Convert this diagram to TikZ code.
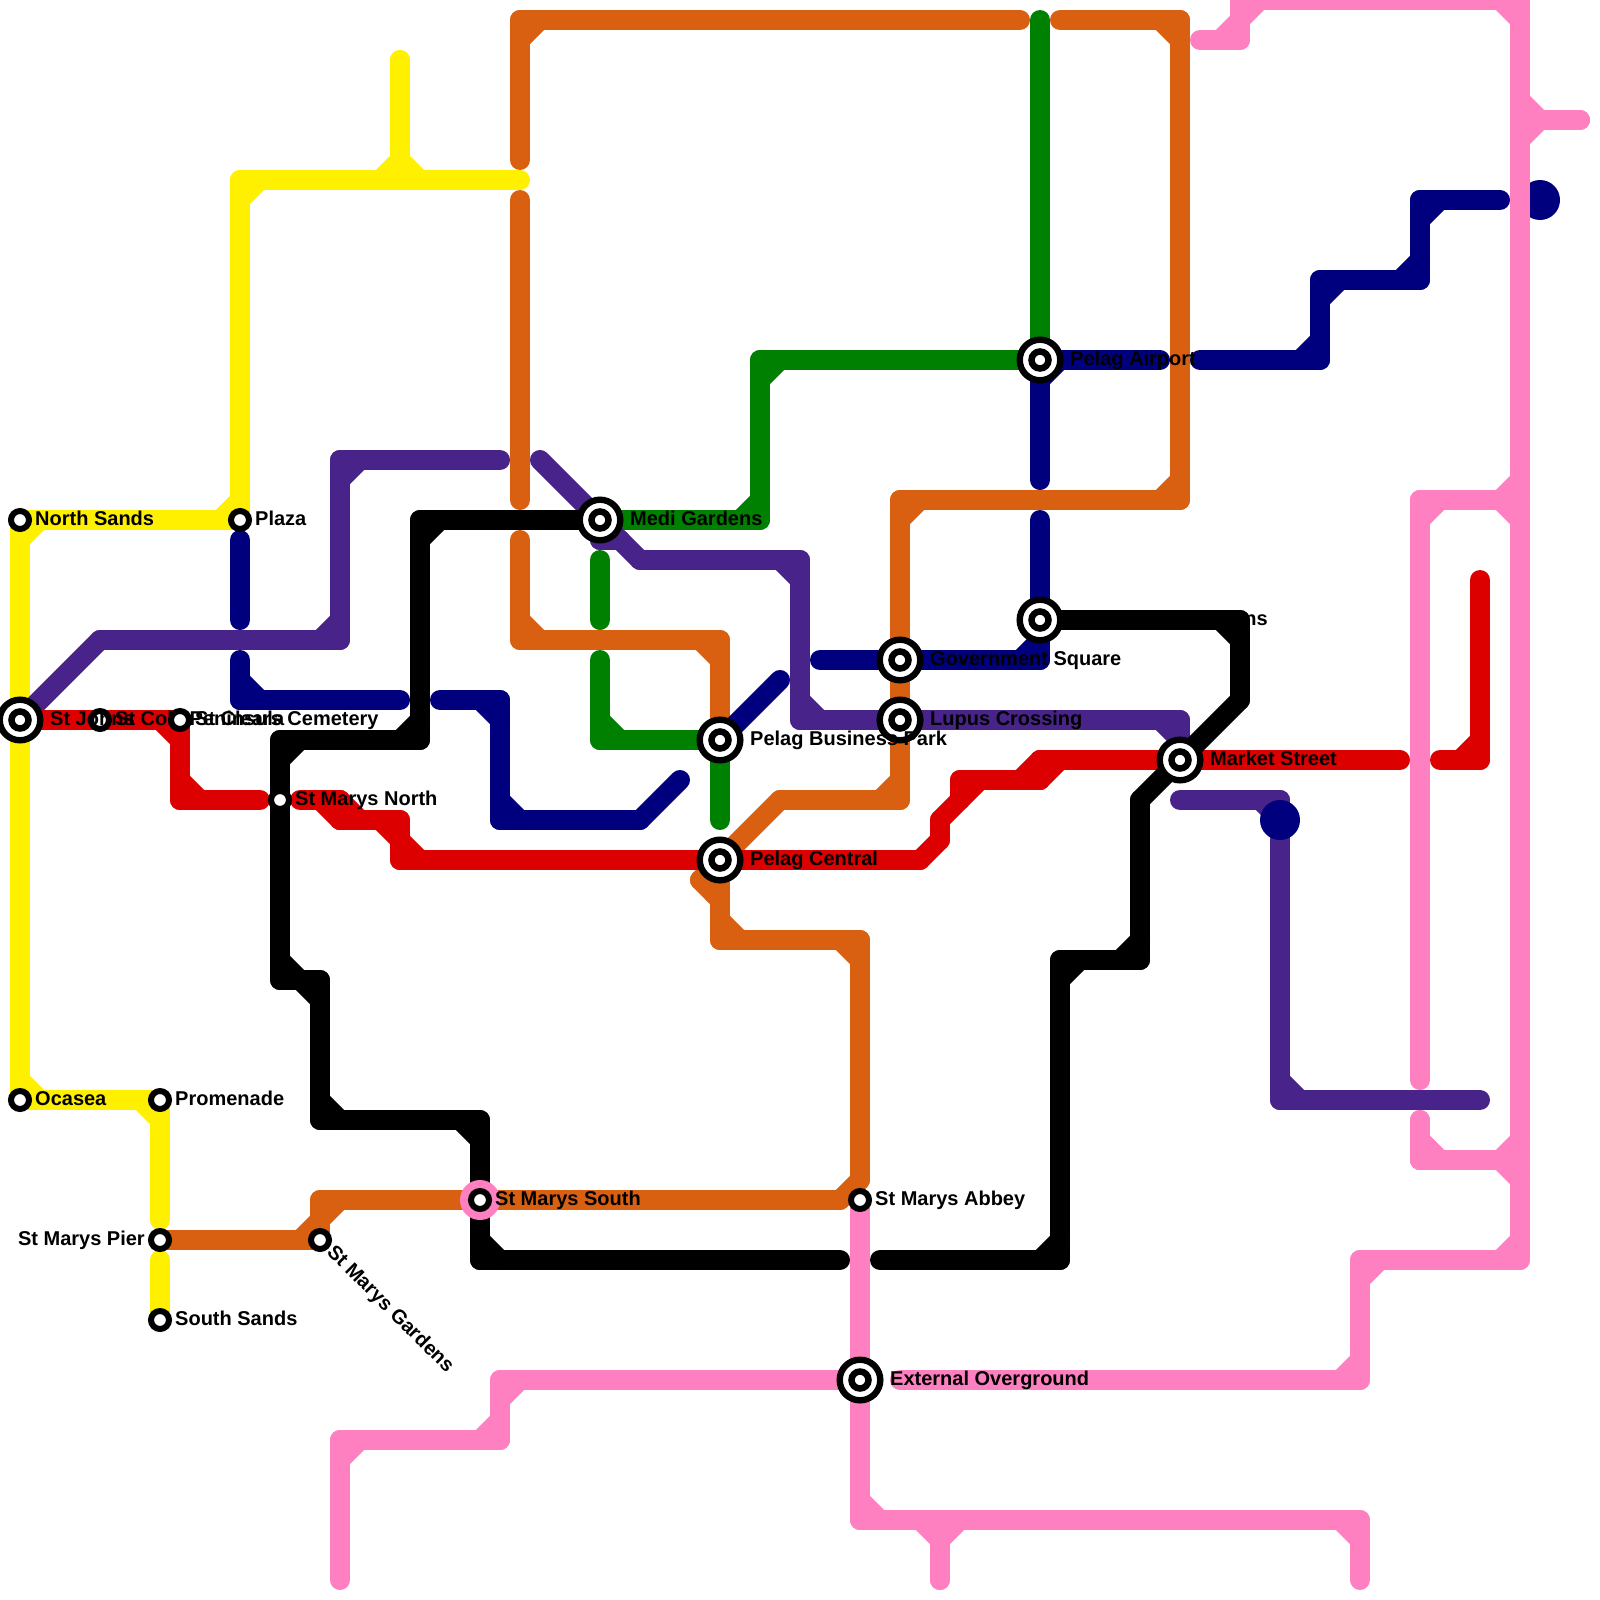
\documentclass[tikz,border=0pt]{standalone}
\usepackage{fontspec}
\setmainfont{Liberation Sans}
\usetikzlibrary{calc}

\definecolor{yellowline}{HTML}{FFF000}
\definecolor{orangeline}{HTML}{DA6011}
\definecolor{greenline}{HTML}{008000}
\definecolor{navyline}{HTML}{00007F}
\definecolor{purpleline}{HTML}{482389}
\definecolor{redline}{HTML}{DD0000}
\definecolor{pinkline}{HTML}{FF80C0}

\tikzset{
  metro/.style={line width=20pt,line cap=round,line join=round},
  stop/.style={circle,draw=black,fill=white,line width=6pt,minimum size=18pt,inner sep=0pt},
  hub/.style={circle,draw=black,fill=white,line width=6.4pt,minimum size=40.6pt,inner sep=0pt},
  hubcore/.style={circle,draw=black,fill=white,line width=6.5pt,minimum size=17pt,inner sep=0pt},
  blob/.style={circle,fill=#1,minimum size=40pt,inner sep=0pt},
  stationlabel/.style={anchor=base west,inner sep=0pt,font=\bfseries\fontsize{20pt}{24pt}\selectfont}
}

% a line through points, the square bends get their inner corner cut
\newcommand{\metroline}[2]{%
  \foreach \x/\y [count=\n, remember=\xa as \xb (initially 0), remember=\ya as \yb (initially 0),
                  remember=\x as \xa (initially 0), remember=\y as \ya (initially 0)] in {#2} {%
    \ifnum\n>1 \draw[metro,#1] (\xa,\ya) -- (\x,\y); \fi
    \ifnum\n>2
      \pgfmathtruncatemacro{\bendsize}{abs((\xa-\xb)/20*(\x-\xa)/20+(\ya-\yb)/20*(\y-\ya)/20)}
      \ifnum\bendsize=0
        \draw[metro,#1] ($(\xa,\ya)!20pt!(\xb,\yb)$) -- ($(\xa,\ya)!20pt!(\x,\y)$);
      \fi
    \fi
  }%
}

\begin{document}
\begin{tikzpicture}[x=1pt,y=-1pt]
  \useasboundingbox (0,0) rectangle (1600,1600);

  % Yellow
  \metroline{yellowline}{20/720, 20/520, 240/520, 240/180, 400/180, 400/60}
  \metroline{yellowline}{400/60, 400/180, 520/180}
  \metroline{yellowline}{20/720, 20/1100, 160/1100, 160/1220}
  \metroline{yellowline}{160/1260, 160/1320}

  % Orange
  \metroline{orangeline}{1020/20, 520/20, 520/160}
  \metroline{orangeline}{520/200, 520/500}
  \metroline{orangeline}{520/540, 520/640, 720/640, 720/740}
  \metroline{orangeline}{1060/20, 1180/20, 1180/500, 900/500, 900/800, 780/800, 700/880, 720/900}
  \metroline{orangeline}{720/860, 720/940, 860/940, 860/1180, 840/1200, 320/1200, 320/1240, 160/1240}

  % Green
  \metroline{greenline}{1040/20, 1040/360}
  \metroline{greenline}{1040/360, 760/360, 760/520, 600/520}
  \metroline{greenline}{600/560, 600/620}
  \metroline{greenline}{600/660, 600/740, 720/740}
  \metroline{greenline}{720/740, 720/820}

  % Purple
  \metroline{purpleline}{20/720, 100/640, 340/640, 340/460, 500/460}
  \metroline{purpleline}{540/460, 600/520, 600/540, 620/540, 640/560, 800/560, 800/720, 1180/720, 1180/760}
  \metroline{purpleline}{1180/800, 1280/800, 1280/1100, 1480/1100}

  % Navy
  \metroline{navyline}{240/540, 240/620}
  \metroline{navyline}{240/660, 240/700, 400/700}
  \metroline{navyline}{440/700, 500/700, 500/820, 640/820, 680/780}
  \metroline{navyline}{720/740, 780/680}
  \metroline{navyline}{820/660, 1040/660, 1040/520}
  \metroline{navyline}{1040/480, 1040/360, 1160/360}
  \metroline{navyline}{1200/360, 1320/360, 1320/280, 1420/280, 1420/200, 1500/200}
  \node[blob=navyline] (eastdot) at (1540,200) {};
  \node[blob=navyline] (southdot) at (1280,820) {};

  % Red
  \metroline{redline}{20/720, 180/720, 180/800, 260/800}
  \metroline{redline}{300/800, 340/800, 340/820, 400/820, 400/860, 920/860, 940/840, 940/820, 960/800, 960/780, 1040/780, 1040/760, 1400/760}
  \metroline{redline}{1440/760, 1480/760, 1480/580}

  % Black
  \metroline{black}{600/520, 420/520, 420/740, 280/740, 280/980, 320/980, 320/1120, 480/1120, 480/1260, 840/1260}
  \metroline{black}{880/1260, 1060/1260, 1060/960, 1140/960, 1140/800, 1240/700, 1240/620, 1040/620}

  % Pink
  \metroline{pinkline}{860/1200, 860/1520, 940/1520, 940/1580}
  \metroline{pinkline}{1360/1580, 1360/1520, 940/1520, 940/1580}
  \metroline{pinkline}{340/1580, 340/1440, 500/1440, 500/1380, 860/1380}
  \metroline{pinkline}{900/1380, 1360/1380, 1360/1260, 1520/1260, 1520/1160, 1420/1160, 1420/1120}
  \metroline{pinkline}{1420/1120, 1420/1160, 1520/1160, 1520/500, 1420/500}
  \metroline{pinkline}{1200/40, 1240/40, 1240/0, 1520/0, 1520/120, 1580/120}
  \metroline{pinkline}{1580/120, 1520/120, 1520/500, 1420/500, 1420/1080}
  \node[blob=pinkline] (southring) at (480,1200) {};

  % Stations
  \foreach \name/\x/\y/\txt in {northsands/20/520/North Sands, plaza/240/520/Plaza,
      stcols/100/720/St Cols Peninsula, stclears/180/720/St Clears Cemetery,
      stmarysnorth/280/800/St Marys North, ocasea/20/1100/Ocasea, promenade/160/1100/Promenade,
      southsands/160/1320/South Sands, stmaryssouth/480/1200/St Marys South,
      stmarysabbey/860/1200/St Marys Abbey} {
    \node[stop] (\name) at (\x,\y) {};
    \node[stationlabel] (\name label) at ($(\name)+(15,5.5)$) {\txt};
  }
  \foreach \name/\x/\y/\txt in {stjohns/20/720/St Johns, medigardens/600/520/Medi Gardens,
      pelagairport/1040/360/Pelag Airport, govsquare/900/660/Government Square,
      lupus/900/720/Lupus Crossing, pelagbusiness/720/740/Pelag Business Park,
      pelagcentral/720/860/Pelag Central, market/1180/760/Market Street,
      overground/860/1380/External Overground} {
    \node[hub] (\name) at (\x,\y) {};
    \node[hubcore] (\name core) at (\x,\y) {};
    \node[stationlabel] (\name label) at ($(\name)+(30,5.5)$) {\txt};
  }
  \node[hub] (blackhub) at (1040,620) {};
  \node[hubcore] (blackhub core) at (1040,620) {};
  \node[stationlabel,anchor=base east] (blackhub label) at (1268,625.5) {ns};

  \node[stop] (stmaryspier) at (160,1240) {};
  \node[stationlabel,anchor=base east] (stmaryspier label) at (145,1245.5) {St Marys Pier};
  \node[stop] (stmarysgardens) at (320,1240) {};
  \node[stationlabel,rotate=-45] (stmarysgardens label) at (326,1253) {St Marys Gardens};
\end{tikzpicture}
\end{document}
